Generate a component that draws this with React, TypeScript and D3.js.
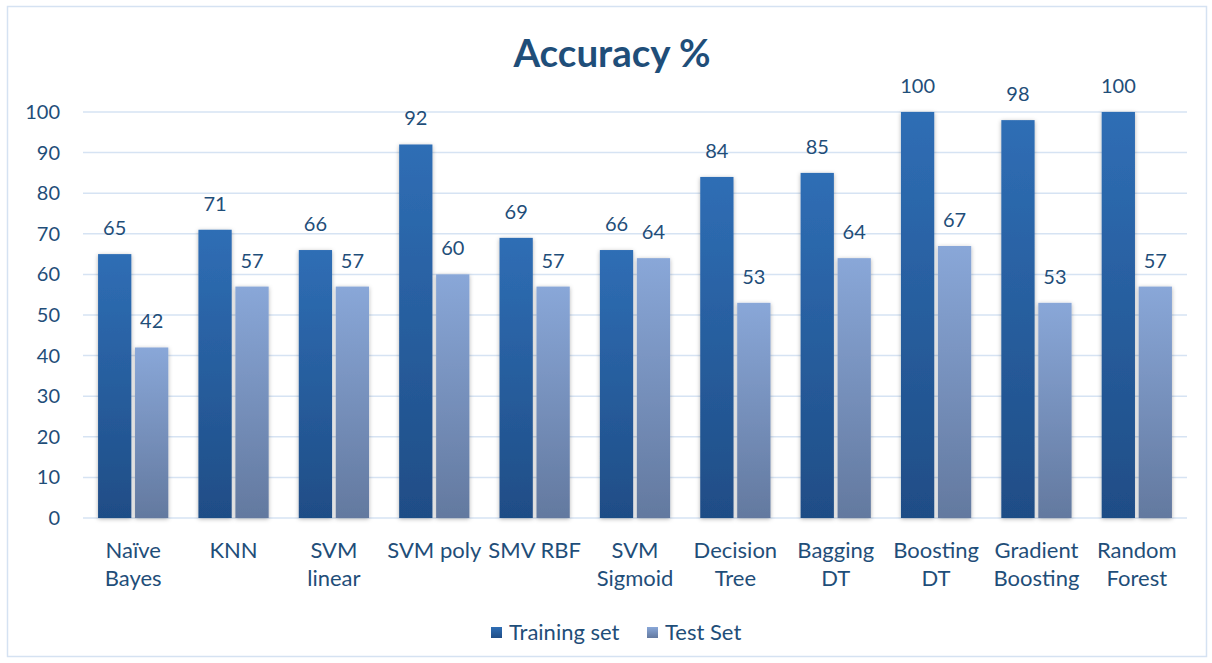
import React from "react";
import * as d3 from "d3";

const categories = [
  "Naïve Bayes", "KNN", "SVM linear", "SVM poly", "SMV RBF", "SVM Sigmoid",
  "Decision Tree", "Bagging DT", "Boosting DT", "Gradient Boosting", "Random Forest",
];
const categoryLines = [
  ["Naïve", "Bayes"], ["KNN"], ["SVM", "linear"], ["SVM poly"], ["SMV RBF"], ["SVM", "Sigmoid"],
  ["Decision", "Tree"], ["Bagging", "DT"], ["Boosting", "DT"], ["Gradient", "Boosting"], ["Random", "Forest"],
];
const trainingSet = [65, 71, 66, 92, 69, 66, 84, 85, 100, 98, 100];
const testSet = [42, 57, 57, 60, 57, 64, 53, 64, 67, 53, 57];
const yTicks = [0, 10, 20, 30, 40, 50, 60, 70, 80, 90, 100];
const seriesNames = ["Training set", "Test Set"];

const W = 1212, H = 663;
const FONT = "Lato, 'Open Sans', sans-serif";
const TXT = "#1F4E79";

export default function App() {
  const x0 = d3.scaleBand().domain(categories).range([83, 1187]).paddingInner(0.3).paddingOuter(0.15);
  const x1 = d3.scaleBand().domain(seriesNames).range([0, x0.bandwidth()]).paddingInner(0.1);
  const y = d3.scaleLinear().domain([0, 100]).range([518, 112]);
  const series = [trainingSet, testSet];
  const fills = ["url(#gTrain)", "url(#gTest)"];

  return (
    <svg width={W} height={H} style={{ position: "absolute", left: 0, top: 0, background: "#fff" }}>
      <defs>
        <linearGradient id="gTrain" x1="0" y1="0" x2="0" y2="1">
          <stop offset="0" stopColor="#2F6EB5" />
          <stop offset="1" stopColor="#1F4D86" />
        </linearGradient>
        <linearGradient id="gTest" x1="0" y1="0" x2="0" y2="1">
          <stop offset="0" stopColor="#89A7D8" />
          <stop offset="1" stopColor="#63799F" />
        </linearGradient>
        <filter id="shadow" x="-30%" y="-10%" width="160%" height="120%">
          <feDropShadow dx="0" dy="1" stdDeviation="2" floodColor="#000" floodOpacity="0.3" />
        </filter>
      </defs>
      <rect x={7.5} y={6.5} width={1199} height={650} fill="#fff" stroke="#D5E2F2" strokeWidth={1.5} />
      <text x={612} y={67} textAnchor="middle" fontFamily={FONT} fontWeight="bold" fontSize={38.5} fill={TXT}>
        Accuracy %
      </text>
      {yTicks.map((t) => (
        <g key={t}>
          <line x1={83} x2={1187} y1={y(t)} y2={y(t)} stroke="#D6E3F3" strokeWidth={1.5} />
          <text x={60} y={y(t)} dy="0.35em" textAnchor="end" fontFamily={FONT} fontSize={20} fill={TXT}>
            {t}
          </text>
        </g>
      ))}
      {categories.map((c, i) => (
        <g key={c} transform={`translate(${x0(c)},0)`}>
          {series.map((s, k) => {
            const bx = x1(seriesNames[k])!;
            const v = s[i];
            return (
              <g key={k}>
                <rect x={bx} y={y(v)} width={x1.bandwidth()} height={y(0) - y(v)} fill={fills[k]} filter="url(#shadow)" />
                <text x={bx + x1.bandwidth() / 2} y={y(v) - 26} dy="0.35em" textAnchor="middle" fontFamily={FONT} fontSize={20} fill={TXT}>
                  {v}
                </text>
              </g>
            );
          })}
          {categoryLines[i].map((ln, j) => (
            <text key={j} x={x0.bandwidth() / 2} y={550 + j * 28} dy="0.35em" textAnchor="middle" fontFamily={FONT} fontSize={22} fill={TXT}>
              {ln}
            </text>
          ))}
        </g>
      ))}
      <g>
        <rect x={491} y={627} width={11} height={11} fill="url(#gTrain)" />
        <text x={509} y={632} dy="0.35em" fontFamily={FONT} fontSize={22} fill={TXT}>{seriesNames[0]}</text>
        <rect x={647} y={627} width={11} height={11} fill="url(#gTest)" />
        <text x={665} y={632} dy="0.35em" fontFamily={FONT} fontSize={22} fill={TXT}>{seriesNames[1]}</text>
      </g>
    </svg>
  );
}
